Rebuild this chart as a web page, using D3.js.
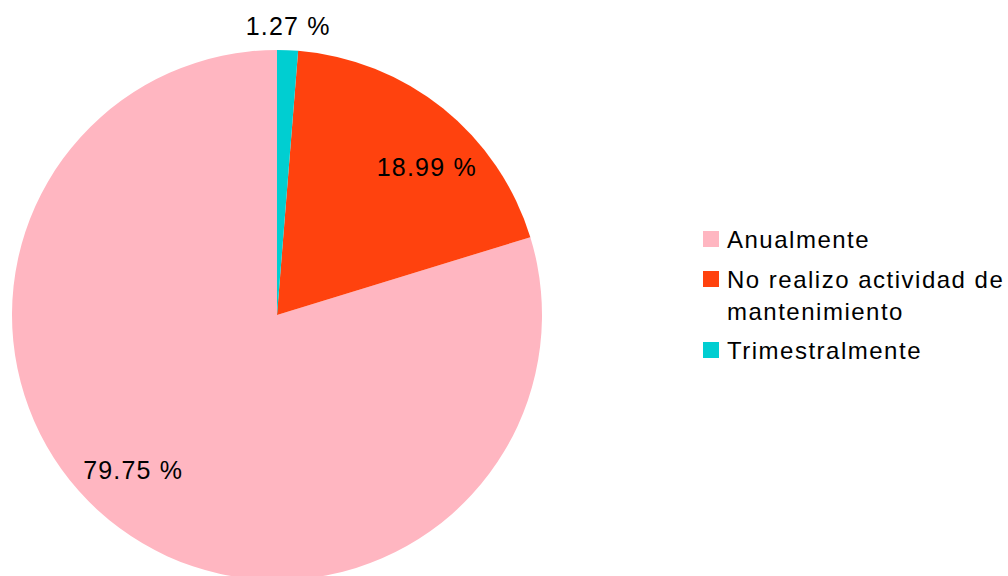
<!DOCTYPE html>
<html><head><meta charset="utf-8">
<script src="https://cdn.jsdelivr.net/npm/d3@7"></script>
<style>body{margin:0;background:#fff}svg{display:block}text{font-family:"Liberation Sans",Arial,sans-serif;fill:#000}</style>
</head><body>
<svg id="c" width="1008" height="576"></svg>
<script>
const categories = ["Anualmente", "No realizo actividad de mantenimiento", "Trimestralmente"];
const legendLines = [["Anualmente"], ["No realizo actividad de", "mantenimiento"], ["Trimestralmente"]];
const values = [79.75, 18.99, 1.27];
const labels = ["79.75 %", "18.99 %", "1.27 %"];
const colors = ["#ffb6c1", "#ff420e", "#00ced1"];

const svg = d3.select("#c");
const cx = 277, cy = 315, R = 265;
const g = svg.append("g").attr("transform", `translate(${cx},${cy})`);
const pie = d3.pie().sort(null).startAngle(0).endAngle(-2 * Math.PI);
const arcs = pie(values);
const arc = d3.arc().innerRadius(0).outerRadius(R);
g.selectAll("path").data(arcs).join("path")
  .attr("d", arc).attr("fill", (d, i) => colors[i]);

const fudge = 6.5 * Math.PI / 180;
arcs.forEach((d, i) => {
  const mid = (d.startAngle + d.endAngle) / 2;
  let x, y, t;
  if (Math.abs(d.endAngle - d.startAngle) < 0.2) {
    const r = R + 15;
    x = Math.sin(mid) * r; y = -Math.cos(mid) * r;
    t = g.append("text").attr("x", x).attr("y", y).attr("text-anchor", "middle");
  } else {
    const a = mid + fudge, r = 211;
    x = Math.sin(a) * r; y = -Math.cos(a) * r;
    t = g.append("text").attr("x", x).attr("y", y).attr("dy", "0.4em").attr("text-anchor", "middle");
  }
  t.attr("font-size", 25).attr("letter-spacing", 1.2).text(labels[i]);
});

const lg = svg.append("g");
const itemY = [231, 271, 342];
legendLines.forEach((lines, i) => {
  lg.append("rect").attr("x", 703).attr("y", itemY[i]).attr("width", 16).attr("height", 16).attr("fill", colors[i]);
  lines.forEach((ln, j) => {
    lg.append("text").attr("x", 727).attr("y", itemY[i] + 17 + j * 32)
      .attr("font-size", 24).attr("letter-spacing", 1.5).text(ln);
  });
});
</script>
</body></html>
